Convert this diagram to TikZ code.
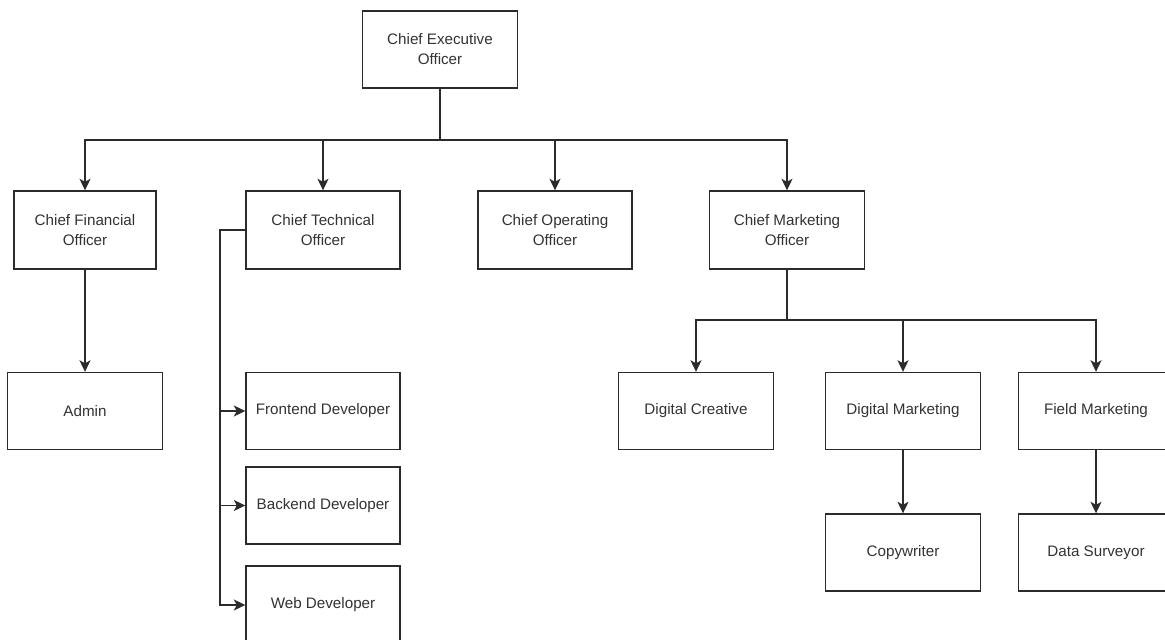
\documentclass[tikz,border=0pt]{standalone}
\usepackage{fontspec}
\setmainfont{Liberation Sans}
\usetikzlibrary{arrows.meta}
\definecolor{ink}{HTML}{2B2B2B}
\definecolor{txt}{HTML}{333333}
\begin{document}
\begin{tikzpicture}[x=1bp,y=-1bp,
  box/.style={draw=ink, line width=1.4bp, fill=white, text=txt, align=center,
    minimum width=155bp, minimum height=77bp, inner sep=0pt,
    font=\fontsize{15.2bp}{20bp}\selectfont},
  conn/.style={draw=ink, line width=1.4bp},
  arr/.style={conn, -{Stealth[length=11.5bp,width=11bp,inset=3bp]}}]
\useasboundingbox (0,0) rectangle (1165,640);
\clip (0,0) rectangle (1165,640);
\fill[white] (0,0) rectangle (1165,640);
% nodes
\node[box] (ceo) at (440,49.5) {Chief Executive\\Officer};
\node[box, minimum width=142bp, minimum height=78bp] (cfo) at (85,230) {Chief Financial\\Officer};
\node[box, minimum width=154bp, minimum height=78bp] (cto) at (323,230) {Chief Technical\\Officer};
\node[box, minimum width=154bp, minimum height=78bp] (coo) at (555,230) {Chief Operating\\Officer};
\node[box, minimum height=78bp] (cmo) at (787,230) {Chief Marketing\\Officer};
\node[box] (admin) at (85,411) {Admin};
\node[box, minimum width=154bp] (fe) at (323,411) {Frontend Developer};
\node[box, minimum width=154bp] (be) at (323,505.5) {Backend Developer};
\node[box, minimum width=154bp, minimum height=78bp] (web) at (323,605) {Web Developer};
\node[box] (dc) at (696,411) {Digital Creative};
\node[box] (dm) at (903,411) {Digital Marketing};
\node[box] (fm) at (1096,411) {Field Marketing};
\node[box] (cw) at (903,552.5) {Copywriter};
\node[box] (ds) at (1096,552.5) {Data Surveyor};
% junction coordinates
\coordinate (busA) at (440,140);
\coordinate (busB) at (787,320);
\coordinate (ctoL) at (220,230);
% connectors
\draw[arr] (ceo.south) -- (busA) -| (cfo.north);
\draw[arr] (ceo.south) -- (busA) -| (cto.north);
\draw[arr] (ceo.south) -- (busA) -| (coo.north);
\draw[arr] (ceo.south) -- (busA) -| (cmo.north);
\draw[arr] (cfo.south) -- (admin.north);
\draw[arr] (cto.west) -- (ctoL) |- (fe.west);
\draw[arr] (cto.west) -- (ctoL) |- (be.west);
\draw[arr] (cto.west) -- (ctoL) |- (web.west);
\draw[arr] (cmo.south) -- (busB) -| (dc.north);
\draw[arr] (cmo.south) -- (busB) -| (dm.north);
\draw[arr] (cmo.south) -- (busB) -| (fm.north);
\draw[arr] (dm.south) -- (cw.north);
\draw[arr] (fm.south) -- (ds.north);
\end{tikzpicture}
\end{document}
